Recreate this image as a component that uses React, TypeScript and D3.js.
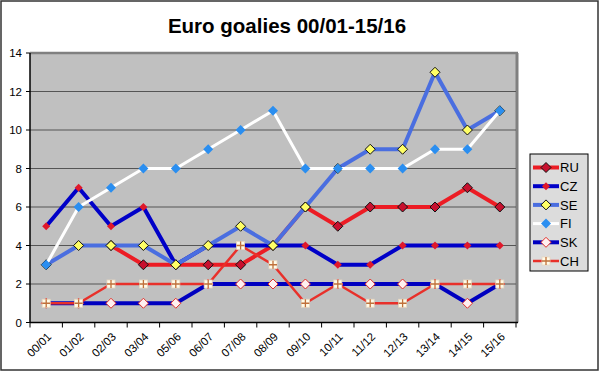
import React, { useRef, useEffect } from 'react';
import * as d3 from 'd3';

const seasons = ['00/01', '01/02', '02/03', '03/04', '05/06', '06/07', '07/08', '08/09', '09/10', '10/11', '11/12', '12/13', '13/14', '14/15', '15/16'];
const ru = [null, null, 4, 3, 3, 3, 3, 4, 6, 5, 6, 6, 6, 7, 6];
const cz = [5, 7, 5, 6, 3, 4, 4, 4, 4, 3, 3, 4, 4, 4, 4];
const se = [3, 4, 4, 4, 3, 4, 5, 4, 6, 8, 9, 9, 13, 10, 11];
const fi = [3, 6, 7, 8, 8, 9, 10, 11, 8, 8, 8, 8, 9, 9, 11];
const sk = [1, 1, 1, 1, 1, 2, 2, 2, 2, 2, 2, 2, 2, 1, 2];
const ch = [1, 1, 2, 2, 2, 2, 4, 3, 1, 2, 1, 1, 2, 2, 2];
const yTicks = [0, 2, 4, 6, 8, 10, 12, 14];

type Marker = 'diamond' | 'smallDiamond' | 'cross';
interface Series {
  name: string;
  values: (number | null)[];
  line: string;
  lineWidth: number;
  marker: Marker;
  fill: string;
  stroke: string;
  size: number;
}

const series: Series[] = [
  { name: 'RU', values: ru, line: '#ec1c24', lineWidth: 4, marker: 'diamond', fill: '#c8102e', stroke: '#111', size: 5 },
  { name: 'CZ', values: cz, line: '#0000c8', lineWidth: 4, marker: 'smallDiamond', fill: '#e0182a', stroke: 'none', size: 4 },
  { name: 'SE', values: se, line: '#4a6ee0', lineWidth: 4, marker: 'diamond', fill: '#ffff66', stroke: '#111', size: 5 },
  { name: 'FI', values: fi, line: '#ffffff', lineWidth: 3, marker: 'smallDiamond', fill: '#2a8ef0', stroke: 'none', size: 5 },
  { name: 'SK', values: sk, line: '#0000c0', lineWidth: 4, marker: 'diamond', fill: '#fff0f0', stroke: '#e0302a', size: 5 },
  { name: 'CH', values: ch, line: '#e8302a', lineWidth: 2.5, marker: 'cross', fill: '#fffbe8', stroke: '#c0703a', size: 4 },
];

function drawMarker(g: any, s: Series, x: number, y: number) {
  const r = s.size;
  if (s.marker === 'cross') {
    g.append('rect').attr('x', x - r).attr('y', y - r).attr('width', r * 2).attr('height', r * 2)
      .attr('fill', s.fill).attr('stroke', '#e8d8c0').attr('stroke-width', 0.8);
    g.append('path').attr('d', `M${x - r},${y}H${x + r}M${x},${y - r}V${y + r}`)
      .attr('stroke', s.stroke).attr('stroke-width', 1.3).attr('fill', 'none');
  } else {
    g.append('path').attr('d', `M${x},${y - r}L${x + r},${y}L${x},${y + r}L${x - r},${y}Z`)
      .attr('fill', s.fill).attr('stroke', s.stroke).attr('stroke-width', s.stroke === 'none' ? 0 : 1);
  }
}

function App() {
  const chartRef = useRef<SVGSVGElement>(null);
  const width = 600;
  const height = 372;
  const margin = { top: 53, right: 84, bottom: 49.5, left: 30 };

  useEffect(() => {
    const svg = d3.select(chartRef.current);
    svg.selectAll('*').remove();
    const font = 'Arial, "Liberation Sans", sans-serif';

    svg.append('rect').attr('x', 1).attr('y', 1).attr('width', width - 3).attr('height', height - 3)
      .attr('fill', '#fff').attr('stroke', '#333').attr('stroke-width', 1.5);

    svg.append('text').attr('x', 287).attr('y', 33).attr('text-anchor', 'middle')
      .attr('font-family', font).attr('font-weight', 'bold').attr('font-size', 20.5)
      .text('Euro goalies 00/01-15/16');

    const innerW = width - margin.left - margin.right;
    const innerH = height - margin.top - margin.bottom;
    const x = d3.scaleBand().domain(seasons).range([0, innerW]);
    const y = d3.scaleLinear().domain([0, 14]).range([innerH, 0]);

    const g = svg.append('g').attr('transform', `translate(${margin.left}, ${margin.top})`);

    g.append('rect').attr('width', innerW).attr('height', innerH).attr('fill', '#c0c0c0');
    // shadow edge on the right and top
    g.append('line').attr('x1', innerW + 1).attr('x2', innerW + 1).attr('y1', 0).attr('y2', innerH)
      .attr('stroke', '#808080').attr('stroke-width', 3);
    g.append('line').attr('x1', 0).attr('x2', innerW + 2).attr('y1', 0).attr('y2', 0)
      .attr('stroke', '#808080').attr('stroke-width', 2.5);

    yTicks.slice(1, -1).forEach((t) => {
      g.append('line').attr('x1', 0).attr('x2', innerW).attr('y1', y(t)).attr('y2', y(t))
        .attr('stroke', '#555').attr('stroke-width', 1);
    });

    // axes
    g.append('line').attr('x1', 0).attr('x2', 0).attr('y1', 0).attr('y2', innerH).attr('stroke', '#000').attr('stroke-width', 1.5);
    g.append('line').attr('x1', 0).attr('x2', innerW + 2).attr('y1', innerH).attr('y2', innerH).attr('stroke', '#000').attr('stroke-width', 1.5);

    yTicks.forEach((t) => {
      g.append('line').attr('x1', -4).attr('x2', 0).attr('y1', y(t)).attr('y2', y(t)).attr('stroke', '#000');
      g.append('text').attr('x', -8).attr('y', y(t)).attr('dy', '0.35em').attr('text-anchor', 'end')
        .attr('font-family', font).attr('font-size', 11.5).text(String(t));
    });

    seasons.forEach((s, i) => {
      const bx = x(s) as number;
      g.append('line').attr('x1', bx).attr('x2', bx).attr('y1', innerH).attr('y2', innerH + 5).attr('stroke', '#000');
      if (i === seasons.length - 1) {
        g.append('line').attr('x1', bx + x.bandwidth()).attr('x2', bx + x.bandwidth())
          .attr('y1', innerH).attr('y2', innerH + 5).attr('stroke', '#000');
      }
      const cx = bx + x.bandwidth() / 2;
      g.append('text').attr('transform', `translate(${cx + 3}, ${innerH + 12}) rotate(-45)`)
        .attr('text-anchor', 'end').attr('dy', '0.35em')
        .attr('font-family', font).attr('font-size', 11.5).text(s);
    });

    const line = d3.line<number | null>()
      .defined((d) => d != null)
      .x((_, i) => (x(seasons[i]) as number) + x.bandwidth() / 2)
      .y((d) => y(d as number));

    series.forEach((s) => {
      const sg = g.append('g');
      sg.append('path').datum(s.values).attr('d', line as any).attr('fill', 'none')
        .attr('stroke', s.line).attr('stroke-width', s.lineWidth).attr('stroke-linejoin', 'round');
      s.values.forEach((v, i) => {
        if (v == null) return;
        drawMarker(sg, s, (x(seasons[i]) as number) + x.bandwidth() / 2, y(v));
      });
    });

    // legend
    const lg = svg.append('g').attr('transform', 'translate(530, 154)');
    lg.append('rect').attr('width', 58).attr('height', 117).attr('fill', '#dcdcdc').attr('stroke', '#000').attr('stroke-width', 1);
    series.forEach((s, i) => {
      const ly = 13.5 + i * 18.7;
      lg.append('line').attr('x1', 3).attr('x2', 29).attr('y1', ly).attr('y2', ly)
        .attr('stroke', s.line).attr('stroke-width', s.lineWidth);
      drawMarker(lg, s, 16, ly);
      lg.append('text').attr('x', 30).attr('y', ly).attr('dy', '0.36em')
        .attr('font-family', font).attr('font-size', 13).text(s.name);
    });
  }, []);

  return (
    <svg ref={chartRef} width={width} height={height} style={{ position: 'absolute', left: 0, top: 0 }}></svg>
  );
}

export default App;
